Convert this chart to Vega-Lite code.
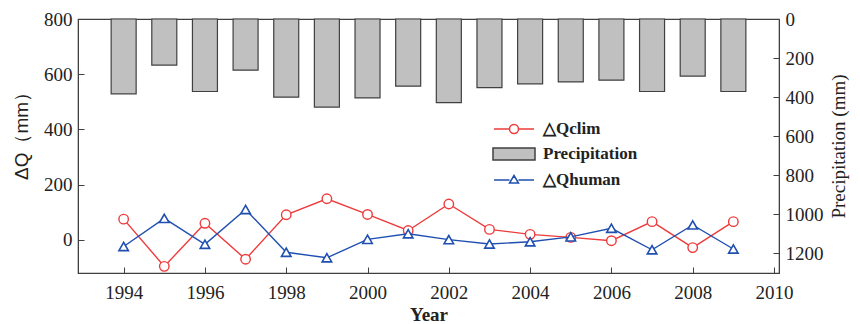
{
  "$schema": "https://vega.github.io/schema/vega-lite/v6.json",
  "width": 701,
  "height": 254,
  "autosize": {"type": "none"},
  "padding": {"left": 78, "top": 19, "right": 81, "bottom": 51},
  "background": "white",
  "config": {
    "view": {"stroke": "#404040", "strokeWidth": 1.2},
    "axis": {
      "labelFont": "Liberation Serif",
      "labelFontSize": 19,
      "labelColor": "#222",
      "titleFont": "Liberation Serif",
      "titleColor": "#222",
      "domainColor": "#404040",
      "tickColor": "#404040",
      "grid": false
    },
    "legend": {
      "title": null,
      "orient": "none",
      "legendX": 425,
      "legendY": 99,
      "symbolSize": 400,
      "symbolStrokeWidth": 1.5,
      "rowPadding": 6,
      "labelOffset": 18,
      "labelFont": "Liberation Serif",
      "labelFontSize": 17,
      "labelFontWeight": "bold",
      "labelColor": "#222"
    }
  },
  "data": {
    "values": [
      {"Year": 1994, "Precip": 383, "Qclim": 75, "Qhuman": -24},
      {"Year": 1995, "Precip": 236, "Qclim": -96, "Qhuman": 78},
      {"Year": 1996, "Precip": 371, "Qclim": 60, "Qhuman": -16},
      {"Year": 1997, "Precip": 262, "Qclim": -70, "Qhuman": 110},
      {"Year": 1998, "Precip": 400, "Qclim": 91, "Qhuman": -45},
      {"Year": 1999, "Precip": 451, "Qclim": 149, "Qhuman": -65},
      {"Year": 2000, "Precip": 404, "Qclim": 92, "Qhuman": 2},
      {"Year": 2001, "Precip": 344, "Qclim": 34, "Qhuman": 22},
      {"Year": 2002, "Precip": 428, "Qclim": 130, "Qhuman": 1},
      {"Year": 2003, "Precip": 351, "Qclim": 38, "Qhuman": -15},
      {"Year": 2004, "Precip": 332, "Qclim": 20, "Qhuman": -7},
      {"Year": 2005, "Precip": 322, "Qclim": 9, "Qhuman": 11},
      {"Year": 2006, "Precip": 313, "Qclim": -3, "Qhuman": 42},
      {"Year": 2007, "Precip": 371, "Qclim": 66, "Qhuman": -36},
      {"Year": 2008, "Precip": 292, "Qclim": -28, "Qhuman": 54},
      {"Year": 2009, "Precip": 371, "Qclim": 66, "Qhuman": -33}
    ]
  },
  "encoding": {
    "x": {
      "field": "Year",
      "type": "quantitative",
      "scale": {"domain": [1993, 2010], "nice": false, "zero": false},
      "axis": {
        "values": [1994, 1996, 1998, 2000, 2002, 2004, 2006, 2008, 2010],
        "format": "d",
        "tickSize": -6,
        "labelPadding": 16,
        "title": "Year",
        "titleFontSize": 19,
        "titleFontWeight": "bold",
        "titlePadding": 3
      }
    }
  },
  "layer": [
    {
      "mark": {"type": "bar", "size": 25, "strokeWidth": 1.2},
      "encoding": {
        "y": {
          "field": "Precip",
          "type": "quantitative",
          "scale": {"domain": [0, 1300], "reverse": true, "nice": false},
          "axis": {
            "orient": "right",
            "values": [0, 200, 400, 600, 800, 1000, 1200],
            "format": "d",
            "tickSize": -6,
            "labelPadding": 12,
            "title": "Precipitation (mm)",
            "titleAngle": 270,
            "titleBaseline": "top",
            "titleFontSize": 19,
            "titleFontWeight": "normal",
            "titlePadding": 6
          }
        },
        "fill": {
          "datum": "Precipitation",
          "type": "nominal",
          "scale": {
            "domain": ["△Qclim", "Precipitation", "△Qhuman"],
            "range": ["white", "#c0c0c0", "white"]
          },
          "legend": {
            "encode": {
              "symbols": {
                "update": {
                  "shape": {"signal": "datum.value === 'Precipitation' ? 'M-2.1,-0.6H2.1V0.6H-2.1Z' : datum.value === '△Qclim' ? 'M-2,0H-0.45M0.45,0H2M0.45,0A0.45,0.45 0 1,1 -0.45,0A0.45,0.45 0 1,1 0.45,0Z' : 'M-2,0H-0.45M0.45,0H2M0,-0.45L0.45,0.3L-0.45,0.3Z'"}
                }
              }
            }
          }
        },
        "stroke": {
          "datum": "Precipitation",
          "type": "nominal",
          "scale": {
            "domain": ["△Qclim", "Precipitation", "△Qhuman"],
            "range": ["#ee3b3b", "#404040", "#1f4fb0"]
          },
          "legend": {
            "encode": {
              "symbols": {
                "update": {
                  "shape": {"signal": "datum.value === 'Precipitation' ? 'M-2.1,-0.6H2.1V0.6H-2.1Z' : datum.value === '△Qclim' ? 'M-2,0H-0.45M0.45,0H2M0.45,0A0.45,0.45 0 1,1 -0.45,0A0.45,0.45 0 1,1 0.45,0Z' : 'M-2,0H-0.45M0.45,0H2M0,-0.45L0.45,0.3L-0.45,0.3Z'"}
                }
              }
            }
          }
        }
      }
    },
    {
      "layer": [
        {
          "mark": {"type": "line", "strokeWidth": 1.4, "point": {"filled": false, "fill": "white", "shape": "circle", "size": 90, "strokeWidth": 1.4}},
          "encoding": {
            "y": {
              "field": "Qclim",
              "type": "quantitative",
              "scale": {"domain": [-120, 800], "nice": false},
              "axis": {
                "orient": "left",
                "values": [0, 200, 400, 600, 800],
                "tickSize": -6,
                "labelPadding": 12,
                "title": "ΔQ（mm）",
                "titleFont": "Liberation Sans",
                "titleFontSize": 19,
                "titleFontWeight": "normal",
                "titlePadding": 12,
                "titleY": 112
              }
            },
            "stroke": {
              "datum": "△Qclim",
              "type": "nominal",
              "legend": {
                "encode": {
                  "symbols": {
                    "update": {
                      "shape": {"signal": "datum.value === 'Precipitation' ? 'M-2.1,-0.6H2.1V0.6H-2.1Z' : datum.value === '△Qclim' ? 'M-2,0H-0.45M0.45,0H2M0.45,0A0.45,0.45 0 1,1 -0.45,0A0.45,0.45 0 1,1 0.45,0Z' : 'M-2,0H-0.45M0.45,0H2M0,-0.45L0.45,0.3L-0.45,0.3Z'"}
                    }
                  }
                }
              }
            }
          }
        },
        {
          "mark": {"type": "line", "strokeWidth": 1.4, "point": {"filled": false, "fill": "white", "shape": "triangle-up", "size": 90, "strokeWidth": 1.6}},
          "encoding": {
            "y": {"field": "Qhuman", "type": "quantitative"},
            "stroke": {
              "datum": "△Qhuman",
              "type": "nominal",
              "legend": {
                "encode": {
                  "symbols": {
                    "update": {
                      "shape": {"signal": "datum.value === 'Precipitation' ? 'M-2.1,-0.6H2.1V0.6H-2.1Z' : datum.value === '△Qclim' ? 'M-2,0H-0.45M0.45,0H2M0.45,0A0.45,0.45 0 1,1 -0.45,0A0.45,0.45 0 1,1 0.45,0Z' : 'M-2,0H-0.45M0.45,0H2M0,-0.45L0.45,0.3L-0.45,0.3Z'"}
                    }
                  }
                }
              }
            }
          }
        }
      ]
    }
  ],
  "resolve": {"scale": {"y": "independent"}, "axis": {"y": "independent"}}
}
